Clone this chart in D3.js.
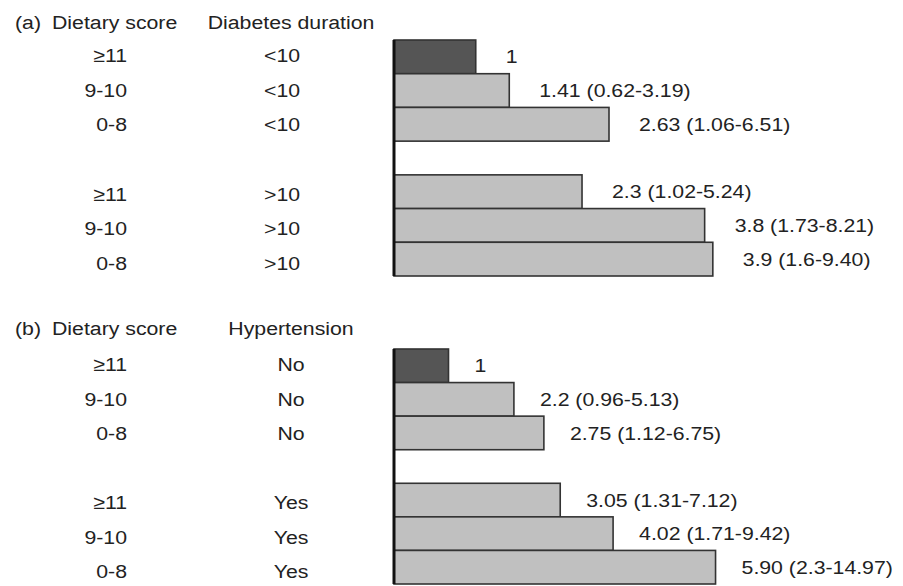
<!DOCTYPE html>
<html>
<head>
<meta charset="utf-8">
<script src="https://cdn.jsdelivr.net/npm/d3@7"></script>
<style>
  body { margin: 0; background: #fff; }
  text { font-family: "Liberation Sans", Arial, sans-serif; font-size: 19px; fill: #222; }
</style>
</head>
<body>
<div id="chart"></div>
<script>
// ******* Data *******
var scoreLabels = ["\u226511", "9-10", "0-8", "\u226511", "9-10", "0-8"];
var durationLabels = ["<10", "<10", "<10", ">10", ">10", ">10"];
var hyperLabels = ["No", "No", "No", "Yes", "Yes", "Yes"];
var oddsA = [1, 1.41, 2.63, 2.3, 3.8, 3.9];
var oddsTextA = ["1", "1.41 (0.62-3.19)", "2.63 (1.06-6.51)", "2.3 (1.02-5.24)", "3.8 (1.73-8.21)", "3.9 (1.6-9.40)"];
var oddsB = [1, 2.2, 2.75, 3.05, 4.02, 5.90];
var oddsTextB = ["1", "2.2 (0.96-5.13)", "2.75 (1.12-6.75)", "3.05 (1.31-7.12)", "4.02 (1.71-9.42)", "5.90 (2.3-14.97)"];

// ******* Layout *******
var w = 903;
var h = 586;
var x0 = 394;      // bar baseline (left axis)
var x1 = 721;      // end of the value range
var stretch = 1.12; // the source lettering is a little wide

var panels = [
  { tag: "(a)", title: "Diabetes duration", groups: durationLabels, values: oddsA, texts: oddsTextA,
    axisMax: 4, top: 40, bottom: 276, headY: 29, col2X: 282, gap: 30 },
  { tag: "(b)", title: "Hypertension", groups: hyperLabels, values: oddsB, texts: oddsTextB,
    axisMax: 6, top: 349, bottom: 584, headY: 335, col2X: 291, gap: 26 }
];

var svg = d3.select("#chart").append("svg").attr("width", w).attr("height", h);

function addText(g, x, y, str, anchor) {
  g.append("text")
    .attr("transform", "translate(" + x + "," + y + ") scale(" + stretch + ",1)")
    .attr("text-anchor", anchor || "start")
    .text(str);
}

// slot 3 is the empty row between the two groups
function slotOf(i) { return i < 3 ? i : i + 1; }

panels.forEach(function (p) {
  var g = svg.append("g");
  var x = d3.scaleLinear().domain([0, p.axisMax]).range([x0, x1]);
  var y = d3.scaleBand().domain(d3.range(7)).range([p.top, p.bottom]).padding(0);
  var yLab = d3.scalePoint().domain(d3.range(7)).range([p.top + 22, p.bottom - 6]);

  // headers
  addText(g, 15, p.headY, p.tag);
  addText(g, 52, p.headY, "Dietary score");
  addText(g, 291, p.headY, p.title, "middle");

  // row labels
  p.values.forEach(function (v, i) {
    addText(g, 127, yLab(slotOf(i)), scoreLabels[i], "end");
    addText(g, p.col2X, yLab(slotOf(i)), p.groups[i], "middle");
  });

  // bars
  g.selectAll("rect.bar")
    .data(p.values)
    .enter()
    .append("rect")
    .attr("class", "bar")
    .attr("x", x(0))
    .attr("y", function (d, i) { return y(slotOf(i)); })
    .attr("width", function (d) { return x(d) - x(0); })
    .attr("height", y.bandwidth())
    .style("fill", function (d, i) { return i === 0 ? "#555555" : "#c0c0c0"; })
    .style("stroke", "#333")
    .style("stroke-width", 1.6);

  // value labels
  p.values.forEach(function (v, i) {
    addText(g, x(v) + p.gap, y(slotOf(i)) + y.bandwidth() / 2 + 6.6, p.texts[i]);
  });

  // left axis line
  g.append("line")
    .attr("x1", x(0)).attr("x2", x(0))
    .attr("y1", p.top).attr("y2", p.bottom)
    .style("stroke", "#111")
    .style("stroke-width", 3);
});
</script>
</body>
</html>
